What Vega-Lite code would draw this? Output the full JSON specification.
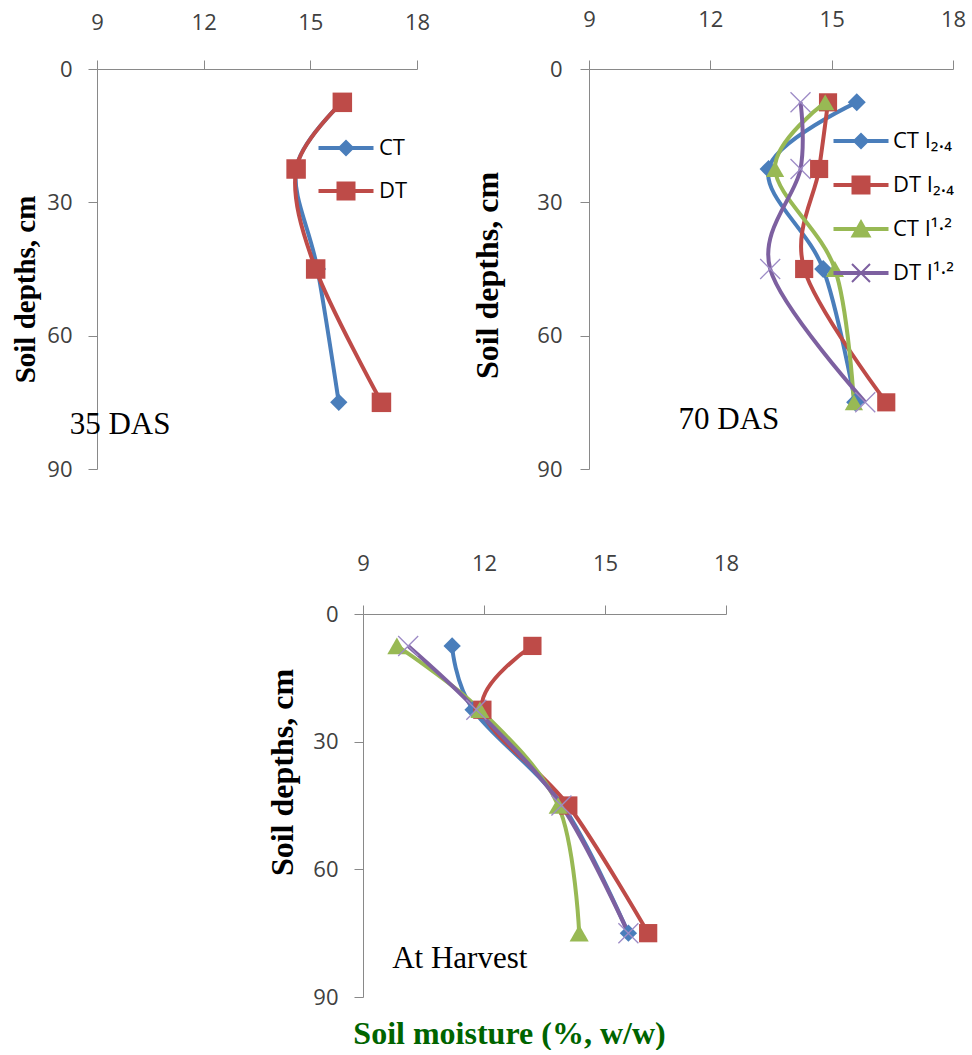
{
  "$schema": "https://vega.github.io/schema/vega-lite/v6.json",
  "padding": {"left": 11, "top": 8, "right": 0, "bottom": 0},
  "config": {
    "view": {"stroke": null},
    "font": "Open Sans",
    "axis": {"grid": false, "domainColor": "#898989", "tickColor": "#898989", "domainWidth": 1, "tickWidth": 1, "tickSize": 9, "labelColor": "#404040", "labelFont": "Open Sans", "labelFontSize": 22, "labelFlush": false, "labelOverlap": false, "titleFont": "Liberation Serif", "titleFontSize": 28, "titleFontWeight": "bold", "titleColor": "#000000"}
  },
  "datasets": {
    "p35": [
      {"series": "CT", "depth": 7.5, "moisture": 15.9},
      {"series": "CT", "depth": 22.5, "moisture": 14.6},
      {"series": "CT", "depth": 45, "moisture": 15.2},
      {"series": "CT", "depth": 75, "moisture": 15.8},
      {"series": "DT", "depth": 7.5, "moisture": 15.9},
      {"series": "DT", "depth": 22.5, "moisture": 14.6},
      {"series": "DT", "depth": 45, "moisture": 15.15},
      {"series": "DT", "depth": 75, "moisture": 17.0}
    ],
    "p70": [
      {"series": "CT I₂.₄", "depth": 7.5, "moisture": 15.62},
      {"series": "CT I₂.₄", "depth": 22.5, "moisture": 13.44},
      {"series": "CT I₂.₄", "depth": 45, "moisture": 14.79},
      {"series": "CT I₂.₄", "depth": 75, "moisture": 15.58},
      {"series": "DT I₂.₄", "depth": 7.5, "moisture": 14.91},
      {"series": "DT I₂.₄", "depth": 22.5, "moisture": 14.69},
      {"series": "DT I₂.₄", "depth": 45, "moisture": 14.32},
      {"series": "DT I₂.₄", "depth": 75, "moisture": 16.35},
      {"series": "CT I¹·²", "depth": 7.5, "moisture": 14.84},
      {"series": "CT I¹·²", "depth": 22.5, "moisture": 13.6},
      {"series": "CT I¹·²", "depth": 45, "moisture": 15.08},
      {"series": "CT I¹·²", "depth": 75, "moisture": 15.55},
      {"series": "DT I¹·²", "depth": 7.5, "moisture": 14.23},
      {"series": "DT I¹·²", "depth": 22.5, "moisture": 14.23},
      {"series": "DT I¹·²", "depth": 45, "moisture": 13.48},
      {"series": "DT I¹·²", "depth": 75, "moisture": 15.83}
    ],
    "harv": [
      {"series": "CT I₂.₄", "depth": 7.5, "moisture": 11.21},
      {"series": "CT I₂.₄", "depth": 22.5, "moisture": 11.73},
      {"series": "CT I₂.₄", "depth": 45, "moisture": 13.95},
      {"series": "CT I₂.₄", "depth": 75, "moisture": 15.58},
      {"series": "DT I₂.₄", "depth": 7.5, "moisture": 13.2},
      {"series": "DT I₂.₄", "depth": 22.5, "moisture": 11.96},
      {"series": "DT I₂.₄", "depth": 45, "moisture": 14.09},
      {"series": "DT I₂.₄", "depth": 75, "moisture": 16.07},
      {"series": "CT I¹·²", "depth": 7.5, "moisture": 9.84},
      {"series": "CT I¹·²", "depth": 22.5, "moisture": 11.9},
      {"series": "CT I¹·²", "depth": 45, "moisture": 13.84},
      {"series": "CT I¹·²", "depth": 75, "moisture": 14.36},
      {"series": "DT I¹·²", "depth": 7.5, "moisture": 10.12},
      {"series": "DT I¹·²", "depth": 22.5, "moisture": 11.81},
      {"series": "DT I¹·²", "depth": 45, "moisture": 13.92},
      {"series": "DT I¹·²", "depth": 75, "moisture": 15.58}
    ],
    "notes35": [{"label": "35 DAS", "moisture": 9.65, "depth": 80}],
    "notes70": [{"label": "70 DAS", "moisture": 12.46, "depth": 79}],
    "notesH": [{"label": "At Harvest", "moisture": 11.4, "depth": 81}]
  },
  "vconcat": [
    {
      "bounds": "flush",
      "spacing": 172,
      "hconcat": [
        {
          "width": 320, "height": 400,
          "data": {"name": "p35"},
          "encoding": {
            "x": {"field": "moisture", "type": "quantitative", "scale": {"domain": [9, 18], "nice": false, "zero": false},
                  "axis": {"orient": "top", "values": [9, 12, 15, 18], "title": null, "labelPadding": 26}},
            "y": {"field": "depth", "type": "quantitative", "scale": {"domain": [0, 90], "reverse": true, "nice": false, "zero": false},
                  "axis": {"values": [0, 30, 60, 90], "title": "Soil depths, cm", "titleFontSize": 29, "labelPadding": 16, "titlePadding": 6, "titleY": 220}}
          },
          "layer": [
            {"mark": {"type": "line", "interpolate": "cardinal", "strokeWidth": 4},
             "encoding": {
               "color": {"field": "series", "type": "nominal", "scale": {"domain": ["CT", "DT"], "range": ["#4A7EBB", "#BE4B48"]}, "legend": null},
               "order": {"field": "depth", "type": "quantitative"}}},
            {"mark": {"type": "point", "filled": true, "opacity": 1},
             "encoding": {
               "color": {"field": "series", "type": "nominal", "scale": {"domain": ["CT", "DT"], "range": ["#4A7EBB", "#BE4B48"]}, "legend": null},
               "shape": {"field": "series", "type": "nominal", "scale": {"domain": ["CT", "DT"], "range": ["diamond", "square"]}, "legend": null},
               "size": {"field": "series", "type": "ordinal", "scale": {"domain": ["CT", "DT"], "range": [300, 380]}, "legend": null}}},
            {"transform": [{"filter": "false"}],
             "mark": {"type": "point", "filled": true},
             "encoding": {
               "color": {"field": "series", "type": "nominal", "scale": {"domain": ["CT", "DT"], "range": ["#4A7EBB", "#BE4B48"]},
                         "legend": {"orient": "none", "legendX": 238, "legendY": 68, "title": null, "symbolSize": 400, "symbolStrokeWidth": 0, "symbolOpacity": 1, "labelOffset": 22, "rowPadding": 21, "padding": 0, "labelFont": "Open Sans", "labelFontSize": 22, "labelColor": "#000000"}},
               "shape": {"field": "series", "type": "nominal", "scale": {"domain": ["CT", "DT"], "range": [
                 "M-2.75,-0.2L2.75,-0.2L2.75,0.2L-2.75,0.2ZM0,-0.85L0.85,0L0,0.85L-0.85,0Z",
                 "M-2.75,-0.2L2.75,-0.2L2.75,0.2L-2.75,0.2ZM-0.95,-0.95L0.95,-0.95L0.95,0.95L-0.95,0.95Z"]},
                         "legend": {"orient": "none", "legendX": 238, "legendY": 68, "title": null, "symbolSize": 400, "symbolStrokeWidth": 0, "symbolOpacity": 1, "labelOffset": 22, "rowPadding": 21, "padding": 0, "labelFont": "Open Sans", "labelFontSize": 22, "labelColor": "#000000"}}}},
            {"data": {"name": "notes35"},
             "mark": {"type": "text", "font": "Liberation Serif", "fontSize": 31, "color": "#000000"},
             "encoding": {"text": {"field": "label"}}}
          ],
          "resolve": {"scale": {"color": "independent", "shape": "independent", "size": "independent"}}
        },
        {
          "width": 364, "height": 400,
          "data": {"name": "p70"},
          "encoding": {
            "x": {"field": "moisture", "type": "quantitative", "scale": {"domain": [9, 18], "nice": false, "zero": false},
                  "axis": {"orient": "top", "values": [9, 12, 15, 18], "title": null, "labelPadding": 29}},
            "y": {"field": "depth", "type": "quantitative", "scale": {"domain": [0, 90], "reverse": true, "nice": false, "zero": false},
                  "axis": {"values": [0, 30, 60, 90], "title": "Soil depths, cm", "titleFontSize": 32, "labelPadding": 18, "titlePadding": 32, "titleY": 206}}
          },
          "layer": [
            {"mark": {"type": "line", "interpolate": "cardinal", "strokeWidth": 4},
             "encoding": {
               "color": {"field": "series", "type": "nominal", "scale": {"domain": ["CT I₂.₄", "DT I₂.₄", "CT I¹·²", "DT I¹·²"], "range": ["#4A7EBB", "#BE4B48", "#98B954", "#7D60A0"]}, "legend": null},
               "order": {"field": "depth", "type": "quantitative"}}},
            {"transform": [{"filter": "datum.series != 'DT I¹·²'"}],
             "mark": {"type": "point", "filled": true, "opacity": 1},
             "encoding": {
               "color": {"field": "series", "type": "nominal", "scale": {"domain": ["CT I₂.₄", "DT I₂.₄", "CT I¹·²", "DT I¹·²"], "range": ["#4A7EBB", "#BE4B48", "#98B954", "#7D60A0"]}, "legend": null},
               "shape": {"field": "series", "type": "nominal", "scale": {"domain": ["CT I₂.₄", "DT I₂.₄", "CT I¹·²", "DT I¹·²"], "range": ["diamond", "square", "triangle-up", "circle"]}, "legend": null},
               "size": {"field": "series", "type": "ordinal", "scale": {"domain": ["CT I₂.₄", "DT I₂.₄", "CT I¹·²", "DT I¹·²"], "range": [324, 340, 360, 400]}, "legend": null}}},
            {"transform": [{"filter": "datum.series == 'DT I¹·²'"}],
             "mark": {"type": "point", "shape": "M-1,-1L1,1M-1,1L1,-1", "filled": false, "color": "#9d8bc6", "strokeWidth": 1.3, "size": 400, "opacity": 1}},
            {"transform": [{"filter": "false"}],
             "mark": {"type": "point", "filled": true},
             "encoding": {
               "color": {"field": "series", "type": "nominal", "scale": {"domain": ["CT I₂.₄", "DT I₂.₄", "CT I¹·²", "DT I¹·²"], "range": ["#4A7EBB", "#BE4B48", "#98B954", "#7D60A0"]},
                         "legend": {"orient": "none", "legendX": 261, "legendY": 61, "title": null, "symbolSize": 400, "symbolStrokeWidth": 0, "symbolOpacity": 1, "labelOffset": 21, "rowPadding": 22, "padding": 0, "labelFont": "Open Sans", "labelFontSize": 22, "labelColor": "#000000"}},
               "shape": {"field": "series", "type": "nominal", "scale": {"domain": ["CT I₂.₄", "DT I₂.₄", "CT I¹·²", "DT I¹·²"], "range": [
                 "M-2.75,-0.2L2.75,-0.2L2.75,0.2L-2.75,0.2ZM0,-0.85L0.85,0L0,0.85L-0.85,0Z",
                 "M-2.75,-0.2L2.75,-0.2L2.75,0.2L-2.75,0.2ZM-0.95,-0.95L0.95,-0.95L0.95,0.95L-0.95,0.95Z",
                 "M-2.75,-0.2L2.75,-0.2L2.75,0.2L-2.75,0.2ZM0,-1L1.05,0.85L-1.05,0.85Z",
                 "M-2.75,-0.2L2.75,-0.2L2.75,0.2L-2.75,0.2ZM-0.83,-0.97L0.97,0.83L0.83,0.97L-0.97,-0.83ZM-0.97,0.83L0.83,-0.97L0.97,-0.83L-0.83,0.97Z"]},
                         "legend": {"orient": "none", "legendX": 261, "legendY": 61, "title": null, "symbolSize": 400, "symbolStrokeWidth": 0, "symbolOpacity": 1, "labelOffset": 21, "rowPadding": 22, "padding": 0, "labelFont": "Open Sans", "labelFontSize": 22, "labelColor": "#000000"}}}},
            {"data": {"name": "notes70"},
             "mark": {"type": "text", "font": "Liberation Serif", "fontSize": 31, "color": "#000000"},
             "encoding": {"text": {"field": "label"}}}
          ],
          "resolve": {"scale": {"color": "independent", "shape": "independent", "size": "independent"}}
        }
      ]
    },
    {
      "bounds": "flush",
      "spacing": 0,
      "hconcat": [
        {
          "width": 266, "height": 20,
          "data": {"values": []},
          "mark": "point"
        },
        {
          "width": 363, "height": 383,
          "data": {"name": "harv"},
          "title": {"text": "Soil moisture (%, w/w)", "orient": "bottom", "anchor": "middle", "frame": "group", "font": "Liberation Serif", "fontSize": 32, "fontWeight": "bold", "color": "#006400", "offset": 11, "dx": -35},
          "encoding": {
            "x": {"field": "moisture", "type": "quantitative", "scale": {"domain": [9, 18], "nice": false, "zero": false},
                  "axis": {"orient": "top", "values": [9, 12, 15, 18], "title": null, "labelPadding": 30}},
            "y": {"field": "depth", "type": "quantitative", "scale": {"domain": [0, 90], "reverse": true, "nice": false, "zero": false},
                  "axis": {"values": [0, 30, 60, 90], "title": "Soil depths, cm", "titleFontSize": 32, "labelPadding": 16, "titlePadding": 13, "titleY": 158}}
          },
          "layer": [
            {"mark": {"type": "line", "interpolate": "cardinal", "strokeWidth": 4},
             "encoding": {
               "color": {"field": "series", "type": "nominal", "scale": {"domain": ["CT I₂.₄", "DT I₂.₄", "CT I¹·²", "DT I¹·²"], "range": ["#4A7EBB", "#BE4B48", "#98B954", "#7D60A0"]}, "legend": null},
               "order": {"field": "depth", "type": "quantitative"}}},
            {"transform": [{"filter": "datum.series != 'DT I¹·²'"}],
             "mark": {"type": "point", "filled": true, "opacity": 1},
             "encoding": {
               "color": {"field": "series", "type": "nominal", "scale": {"domain": ["CT I₂.₄", "DT I₂.₄", "CT I¹·²", "DT I¹·²"], "range": ["#4A7EBB", "#BE4B48", "#98B954", "#7D60A0"]}, "legend": null},
               "shape": {"field": "series", "type": "nominal", "scale": {"domain": ["CT I₂.₄", "DT I₂.₄", "CT I¹·²", "DT I¹·²"], "range": ["diamond", "square", "triangle-up", "circle"]}, "legend": null},
               "size": {"field": "series", "type": "ordinal", "scale": {"domain": ["CT I₂.₄", "DT I₂.₄", "CT I¹·²", "DT I¹·²"], "range": [300, 400, 400, 400]}, "legend": null}}},
            {"transform": [{"filter": "datum.series == 'DT I¹·²'"}],
             "mark": {"type": "point", "shape": "M-1,-1L1,1M-1,1L1,-1", "filled": false, "color": "#9d8bc6", "strokeWidth": 1.3, "size": 400, "opacity": 1}},
            {"data": {"name": "notesH"},
             "mark": {"type": "text", "font": "Liberation Serif", "fontSize": 31, "color": "#000000"},
             "encoding": {"text": {"field": "label"}}}
          ],
          "resolve": {"scale": {"color": "independent", "shape": "independent", "size": "independent"}}
        }
      ]
    }
  ],
  "spacing": 72
}
